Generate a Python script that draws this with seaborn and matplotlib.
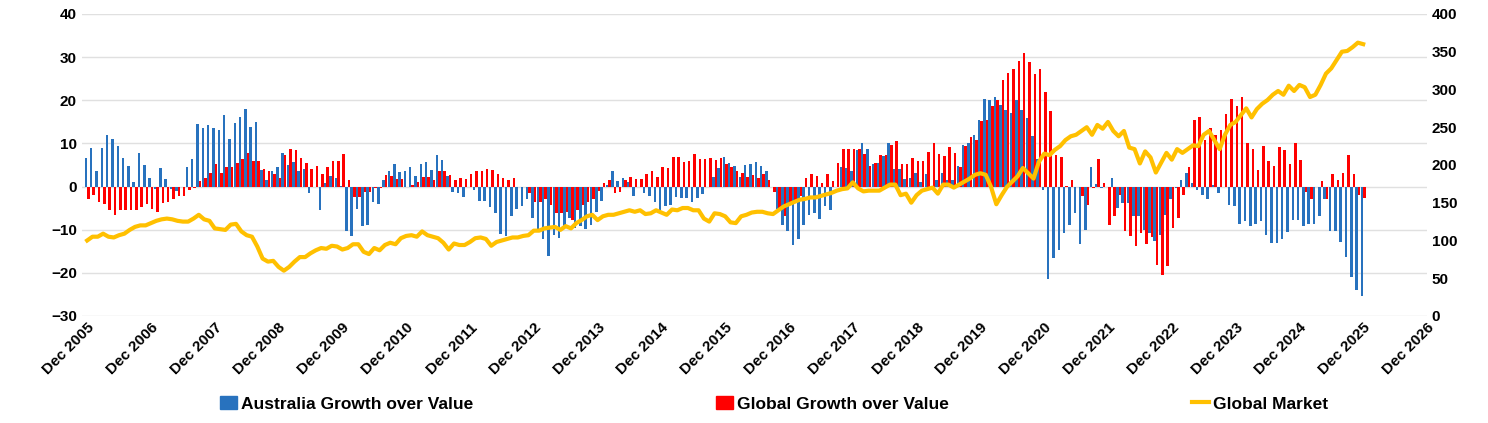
import numpy as np
import pandas as pd
import matplotlib
matplotlib.use("Agg")
import matplotlib.pyplot as plt
from matplotlib.lines import Line2D
from matplotlib.patches import Patch
import seaborn as sns

# Monthly data, Dec 2005 .. Dec 2025
australia = [6.5,9,3.5,9,12,11,9.5,6.6,4.8,1,7.7,5,
    2,-0.5,4.2,1.8,-0.5,-1,0,4.5,6.4,14.4,13.6,14.2,
    13.6,13.2,16.5,11,14.8,16.2,18,13.8,15,3.8,1.5,3.5,
    4.6,7.8,5,5.8,3.7,4,-1.5,0,-5.5,0.8,2.5,2,
    0.2,-10.4,-11.5,-5.2,-9.2,-9,-3.6,-4,1.5,3.5,5.2,3.3,3.6,
    4.6,2.5,5.2,5.8,3.8,7.2,6.2,2.5,-1.2,-1.5,-2.5,0,
    -0.9,-3.3,-3.3,-4.8,-6.2,-10.9,-11.5,-6.8,-5.2,-4.5,-3,-7.3,
    -10,-12.2,-16,-11.2,-12,-9.2,-7.3,-9.6,-9.2,-9.8,-9,-5.8,
    -3.3,0.4,3.5,1.2,2,1,-2.2,0,-1.5,-2.3,-3.6,-5.8,
    -4.4,-4.2,-2.5,-2.7,-2.7,-3.5,-2.7,-1.8,0,2.3,4.2,6.9,
    5.5,4.8,2.3,
    5,5.2,5.6,4.8,3.7,0,-5.2,-8.8,-10.4,-13.5,-12.2,-8.8,-6.5,-6.2,-7.5,
    -4.4,-5.4,0,4.5,4.2,3.7,8.5,10.2,8.8,5.2,5.4,7.1,10,4,4.1,
    1.7,1.9,3.2,1,3,-0.3,1.5,3.2,1.5,1.5,4.8,9.6,10,11.9,15.4,
    20.2,20,20.8,19,17.7,17.1,20,17.7,16,11.8,6.3,-0.9,-21.4,-16.5,-14.8,-10.8,-8.8,
    -6.2,-13.3,-10,4.6,0.6,-0.4,0,1.9,-5,-3.8,-3.8,-6.9,-6.9,-10,-10.8,
    -12.7,-11.2,-6.5,-3,-0.4,1.5,3.1,0.8,-0.8,-1.9,-3,0.3,-1.4,0,-4.2,
    -4.6,-8.6,-8.1,-9.2,-8.7,-8.1,-11.2,-13.1,-13.1,-12.2,-10.5,-7.7,-7.7,-9.2,-8.6,
    -8.6,-6.9,-3,-10.2,-10.2,-12.9,-16.4,-20.9,-24,-25.4]

global_gv = [-2.8,-2,-3.6,-4,-5.5,-6.5,-5.5,-5.4,-5.4,-5.4,-4.8,-4,
    -5.2,-5.8,-3.8,-3.6,-3,-2.3,-2.2,-0.8,-0.4,1.4,2,3.2,
    5.2,3.2,4.6,4.6,5.4,6.3,7.7,6,6,4,3.7,3,
    2,7.3,8.8,8.5,6.5,5.4,4,4.8,3,4.6,6,6,
    7.5,1.5,-2.5,-2.5,-1.2,-1.2,-0.4,-0.4,2.7,2.5,1.8,1.7,0,
    0.3,1,2.3,2.3,1.5,3.6,3.6,2.7,1.5,2,1.8,3,
    3.5,3.5,4,3.8,2.8,1.9,1.5,1.9,0,0,-1.4,-3.5,
    -3.5,-2.9,-4.2,-6.2,-6.2,-6,-7.7,-5.5,-4.2,-3.5,-3,-1,
    0.8,1.5,-1.5,-1.2,1.5,2.2,1.8,1.8,3,3.5,2.3,4.5,
    4.2,6.8,6.9,5.8,6,7.5,6.4,6.3,6.5,6.2,6.5,5.2,
    4.6,3.5,3.1,
    2.3,2.7,1.9,3,1.5,-1.2,-5,-6.8,-3.7,-3.7,-2.2,1.9,2.8,2.5,0.9,
    3,1.2,5.5,8.8,8.8,8.7,8.7,7.5,4.8,5.4,7.3,7.2,9.6,10.6,5.2,
    5.2,6.5,6,6,8.1,10,7.5,7.1,9.2,7.8,4.6,9.4,11.4,10.9,15.2,
    15.5,18.6,20,24.6,26.3,27.3,29.2,30.9,28.8,26,27.2,21.9,17.5,7.3,6.9,0.2,1.5,
    0,-2.3,-4.2,-0.4,6.3,0.9,-8.8,-6.9,-1.9,-10.4,-11.4,-13.7,-10.8,-13.3,-11.7,
    -18.1,-20.6,-18.3,-9.6,-7.3,-1.9,4.6,15.5,16.2,10.8,13.5,11.9,13.1,16.7,20.2,
    18.6,20.8,10,8.8,3.8,9.5,6,4.8,9.2,8.5,5.2,10,6.2,-1.2,-3,
    0,1.2,-3,2.8,1.5,3.1,7.3,2.9,-1.9,-2.7]

global_market = [100,105,105,109,105,104,107,109,114,118,120,120,
    123,126,128,129,128,126,125,125,129,134,128,126,
    116,115,114,121,122,112,107,105,92,76,72,73,
    65,60,65,72,78,78,83,87,90,89,93,92,
    88,90,95,95,85,82,90,87,94,97,95,103,106,107,105,
    112,107,105,103,97,88,96,94,94,98,103,104,102,93,98,100,102,104,104,106,
    107,113,113,116,117,118,114,119,116,123,127,132,134,127,132,134,134,136,138,140,
    138,140,135,136,140,137,134,141,140,143,143,140,140,129,125,136,135,132,124,123,132,
    134,137,138,138,136,135,140,145,148,151,154,155,157,157,159,
    161,163,166,168,169,177,169,165,166,166,166,170,174,174,160,
    162,150,160,166,168,170,162,174,174,170,174,178,182,187,189,
    187,171,148,160,171,178,185,196,189,182,204,215,213,220,225,233,238,
    240,245,250,240,253,248,257,245,238,245,223,221,202,218,210,
    190,203,216,207,221,216,221,226,225,240,245,233,221,240,253,
    257,266,275,263,274,281,286,293,298,293,305,298,306,303,290,
    293,306,321,328,339,350,351,356,362,360]

tick_labels = [f"Dec {y}" for y in range(2005, 2027)]
series_names = ["Australia Growth over Value", "Global Growth over Value", "Global Market"]
colors = ["#2872BE", "#FF0000", "#FFC000"]

n = min(len(australia), len(global_gv), len(global_market))
months = np.arange(n)
df = pd.DataFrame({
    "m": np.concatenate([months, months]),
    "v": np.concatenate([australia[:n], global_gv[:n]]),
    "s": [series_names[0]] * n + [series_names[1]] * n,
})
dfl = pd.DataFrame({"m": months, "v": global_market[:n]})

plt.rcParams["font.family"] = ["Liberation Sans", "DejaVu Sans"]
fig = plt.figure(figsize=(14.88, 4.23), dpi=100)
ax = fig.add_axes([0.055, 0.253, 0.904, 0.714])
sns.barplot(data=df, x="m", y="v", hue="s", native_scale=True, dodge=True, width=0.95,
            palette=colors[:2], legend=False, ax=ax, linewidth=0, saturation=1)
ax.set_ylim(-30, 40)
ax.set_yticks(range(-30, 41, 10))
ax.set_xlim(-1, 252)
ax.set_xticks(range(0, 253, 12))
ax.set_xticklabels(tick_labels, rotation=45, ha="right", rotation_mode="anchor",
                   fontsize=11, fontweight="bold")
ax.grid(axis="y", color="#E0E0E0", linewidth=1)
ax.set_axisbelow(True)
for sp in ax.spines.values():
    sp.set_visible(False)
ax.tick_params(length=0, labelsize=11)
for t in ax.get_yticklabels():
    t.set_fontweight("bold")
ax.set_xlabel("")
ax.set_ylabel("")

ax2 = ax.twinx()
sns.lineplot(data=dfl, x="m", y="v", color=colors[2], linewidth=3, ax=ax2)
ax2.set_ylim(0, 400)
ax2.set_yticks(range(0, 401, 50))
for sp in ax2.spines.values():
    sp.set_visible(False)
ax2.tick_params(length=0, labelsize=11)
for t in ax2.get_yticklabels():
    t.set_fontweight("bold")
ax2.set_xlabel("")
ax2.set_ylabel("")
ax2.set_xlim(-1, 252)

handles = [Patch(color=colors[0]), Patch(color=colors[1]),
           Line2D([0], [0], color=colors[2], linewidth=3)]
fig.legend(handles, series_names, loc="center", bbox_to_anchor=(0.52, 0.045), ncol=3,
           frameon=False, prop={"weight": "bold", "size": 12.5}, columnspacing=14,
           handlelength=1.0, handletextpad=0.2)
fig.savefig("out.png", dpi=100)
